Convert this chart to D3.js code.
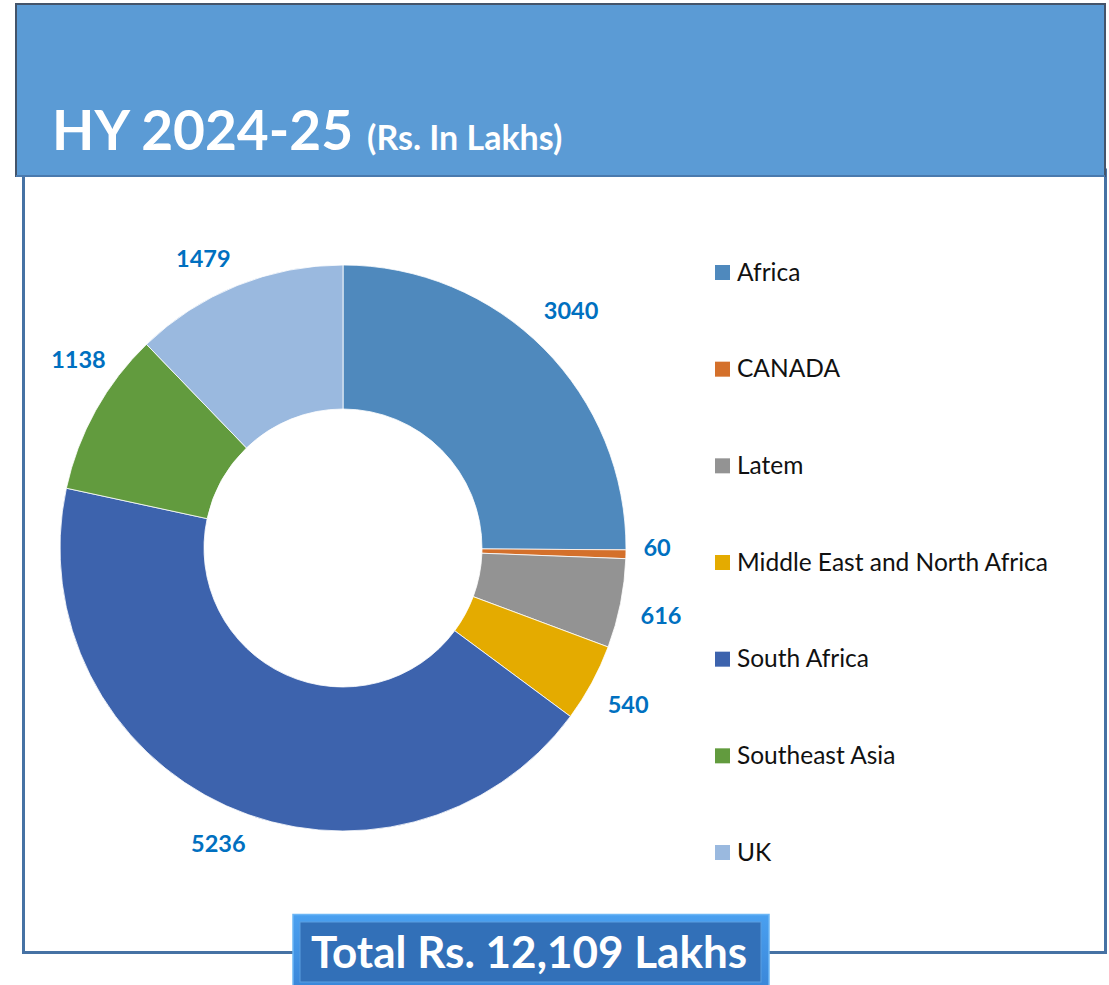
<!DOCTYPE html>
<html>
<head>
<meta charset="utf-8">
<script src="https://cdn.jsdelivr.net/npm/d3@7"></script>
<style>
  body { margin: 0; background: #fff; }
  svg { display: block; font-family: Lato, "Open Sans", sans-serif; }
</style>
</head>
<body>
<div class="chart"></div>
<script>
// data (Rs. in Lakhs)
const regions = ['Africa', 'CANADA', 'Latem', 'Middle East and North Africa', 'South Africa', 'Southeast Asia', 'UK']
const values = [3040, 60, 616, 540, 5236, 1138, 1479]
const colors = ['#4f89bd', '#d4702b', '#939393', '#e4ab00', '#3d63ad', '#629b3e', '#9ab9df']
const totalText = 'Total Rs. 12,109 Lakhs'

// labels were hand placed in the original, small nudges: [degrees, px]
const labelShift = [[-1.3, 6], [-1.3, -9], [0.6, 2], [0.2, 2], [-1.5, -2], [6.4, 2], [-3.8, -2]]

const width = 1109, height = 985

const svg = d3.select('.chart')
  .append('svg')
  .attr('width', width)
  .attr('height', height)

const defs = svg.append('defs')
const grad = defs.append('linearGradient')
  .attr('id', 'bevel').attr('x1', 0).attr('y1', 0).attr('x2', 0).attr('y2', 1)
grad.append('stop').attr('offset', '0%').attr('stop-color', '#4aa0f0')
grad.append('stop').attr('offset', '100%').attr('stop-color', '#3a86d8')

// outer frame
svg.append('rect')
  .attr('x', 23.5).attr('y', 170)
  .attr('width', 1082).attr('height', 782.5)
  .attr('fill', '#fff')
  .attr('stroke', '#4672a4')
  .attr('stroke-width', 3)

// header band
svg.append('rect')
  .attr('x', 16).attr('y', 4)
  .attr('width', 1089).attr('height', 172)
  .attr('fill', '#5b9bd5')
  .attr('stroke', '#44546a')
  .attr('stroke-width', 2)
svg.append('line')
  .attr('x1', 16).attr('x2', 1105).attr('y1', 176).attr('y2', 176)
  .attr('stroke', '#4a7aae').attr('stroke-width', 2)

const title = svg.append('text')
  .attr('x', 52).attr('y', 150)
  .attr('fill', '#fff')
  .attr('font-weight', 'bold')
title.append('tspan').attr('font-size', 55).text('HY 2024-25')
title.append('tspan').attr('font-size', 34).attr('dx', 14).text('(Rs. In Lakhs)')

// donut
const cx = 343, cy = 548
const outerR = 283, innerR = 139, labelR = 323

const pie = d3.pie().sort(null).value(d => d.value)
const arcs = pie(regions.map((r, i) => ({ region: r, value: values[i], color: colors[i] })))

const arc = d3.arc().innerRadius(innerR).outerRadius(outerR)

const g = svg.append('g').attr('transform', 'translate(' + cx + ',' + cy + ')')

g.selectAll('path')
  .data(arcs)
  .join('path')
  .attr('d', arc)
  .attr('fill', d => d.data.color)
  .attr('stroke', '#fff')
  .attr('stroke-width', 0.8)

g.selectAll('text.val')
  .data(arcs)
  .join('text')
  .attr('class', 'val')
  .attr('transform', (d, i) => {
    const a = (d.startAngle + d.endAngle) / 2 + labelShift[i][0] * Math.PI / 180
    const r = labelR + labelShift[i][1]
    return 'translate(' + (r * Math.sin(a)) + ',' + (-r * Math.cos(a)) + ')'
  })
  .attr('text-anchor', 'middle')
  .attr('dy', '0.36em')
  .attr('fill', '#0070c0')
  .attr('font-weight', 'bold')
  .attr('font-size', 23.5)
  .text(d => d.data.value)

// legend
const legendY = d3.scalePoint().domain(regions).range([272, 852])

const legend = svg.selectAll('.legend')
  .data(regions)
  .join('g')
  .attr('class', 'legend')
  .attr('transform', d => 'translate(715,' + legendY(d) + ')')

legend.append('rect')
  .attr('x', 0).attr('y', -7)
  .attr('width', 15).attr('height', 15)
  .attr('fill', (d, i) => colors[i])

legend.append('text')
  .attr('x', 22)
  .attr('dy', '0.36em')
  .attr('font-size', 24.5)
  .attr('fill', '#111')
  .text(d => d)

// total box
svg.append('rect')
  .attr('x', 293).attr('y', 914.5)
  .attr('width', 476).attr('height', 75)
  .attr('fill', 'url(#bevel)')
  .attr('stroke', '#6cb6f5')
  .attr('stroke-width', 1.5)
svg.append('rect')
  .attr('x', 300).attr('y', 922)
  .attr('width', 461).attr('height', 60)
  .attr('fill', '#3270b8')
  .attr('stroke', '#5a9ee0')
  .attr('stroke-width', 1)

svg.append('text')
  .attr('x', 529).attr('y', 968)
  .attr('text-anchor', 'middle')
  .attr('fill', '#fff')
  .attr('font-weight', 'bold')
  .attr('font-size', 44)
  .text(totalText)
</script>
</body>
</html>
